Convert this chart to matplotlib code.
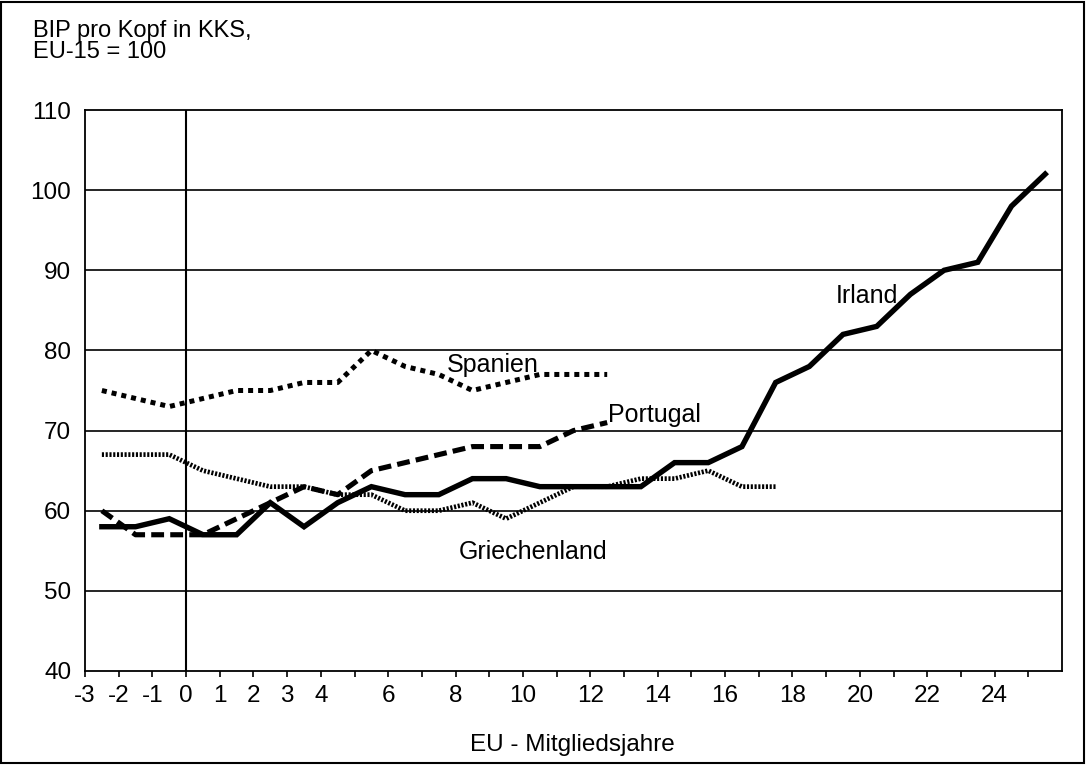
import matplotlib.pyplot as plt
from matplotlib.patches import Rectangle

plt.rcParams['font.family'] = ['Liberation Sans', 'DejaVu Sans']

# Werte (Kategorien liegen jeweils zwischen den Teilstrichen)
jahre = [-3, -2, -1, 0, 1, 2, 3, 4, 5, 6, 7, 8, 9, 10, 11, 12, 13, 14,
         15, 16, 17, 18, 19, 20, 21, 22, 23, 24, 25]
irland = [58, 58, 59, 57, 57, 61, 58, 61, 63, 62, 62, 64, 64, 63, 63, 63,
          63, 66, 66, 68, 76, 78, 82, 83, 87, 90, 91, 98, 102]
griechenland = [67, 67, 67, 65, 64, 63, 63, 62, 62, 60, 60, 61, 59, 61, 63,
                63, 64, 64, 65, 63, 63]
spanien = [75, 74, 73, 74, 75, 75, 76, 76, 80, 78, 77, 75, 76, 77, 77, 77]
portugal = [60, 57, 57, 57, 59, 61, 63, 62, 65, 66, 67, 68, 68, 68, 70, 71]

xtick_labels = ['-3', '-2', '-1', '0', '1', '2', '3', '4', '', '6', '', '8',
                '', '10', '', '12', '', '14', '', '16', '', '18', '', '20',
                '', '22', '', '24', '']


def mitte(n):
    return [j + 0.5 for j in jahre[:n]]


fig = plt.figure(figsize=(10.86, 7.65), dpi=100)
ax = fig.add_axes([0.0783, 0.1229, 0.8996, 0.7333])

for y in range(50, 110, 10):
    ax.axhline(y, color='black', lw=1.2, zorder=1)
ax.axvline(0, color='black', lw=1.5, zorder=1)

ax.plot(mitte(len(irland)), irland, color='black', lw=3.9,
        solid_joinstyle='miter', zorder=5)
ax.plot(mitte(len(spanien)), spanien, color='black', lw=3.6,
        dashes=(1.0, 1.0), dash_capstyle='butt', zorder=4)
ax.plot(mitte(len(portugal)), portugal, color='black', lw=3.7,
        dashes=(2.5, 1.2), dash_capstyle='butt', zorder=4)
ax.plot(mitte(len(griechenland)), griechenland, color='black', lw=3.4,
        dashes=(0.45, 0.35), dash_capstyle='butt', zorder=3)

ax.set_xlim(-3, 26)
ax.set_ylim(40, 110)
ax.set_xticks(jahre)
ax.set_xticklabels(xtick_labels)
ax.set_yticks(range(40, 111, 10))
ax.tick_params(axis='x', direction='out', length=4, width=1.2, pad=6,
               labelsize=17.5)
ax.tick_params(axis='y', length=0, pad=10, labelsize=17.5)
for s in ax.spines.values():
    s.set_linewidth(1.3)

ax.text(9.1, 78.2, 'Spanien', fontsize=18, ha='center', va='center')
ax.text(13.9, 72.0, 'Portugal', fontsize=18, ha='center', va='center')
ax.text(10.3, 54.8, 'Griechenland', fontsize=18, ha='center', va='center')
ax.text(20.2, 86.8, 'Irland', fontsize=18, ha='center', va='center')

fig.text(33 / 1086, 1 - 20 / 765, 'BIP pro Kopf in KKS,\nEU-15 = 100',
         fontsize=17, ha='left', va='top', linespacing=0.95)
fig.text(572 / 1086, 1 - 745 / 765, 'EU - Mitgliedsjahre', fontsize=17.5,
         ha='center', va='center')

fig.patches.append(Rectangle((0.001, 0.002), 0.997, 0.996,
                             transform=fig.transFigure, fill=False,
                             edgecolor='black', lw=1.5))

fig.savefig('out.png', dpi=100)
